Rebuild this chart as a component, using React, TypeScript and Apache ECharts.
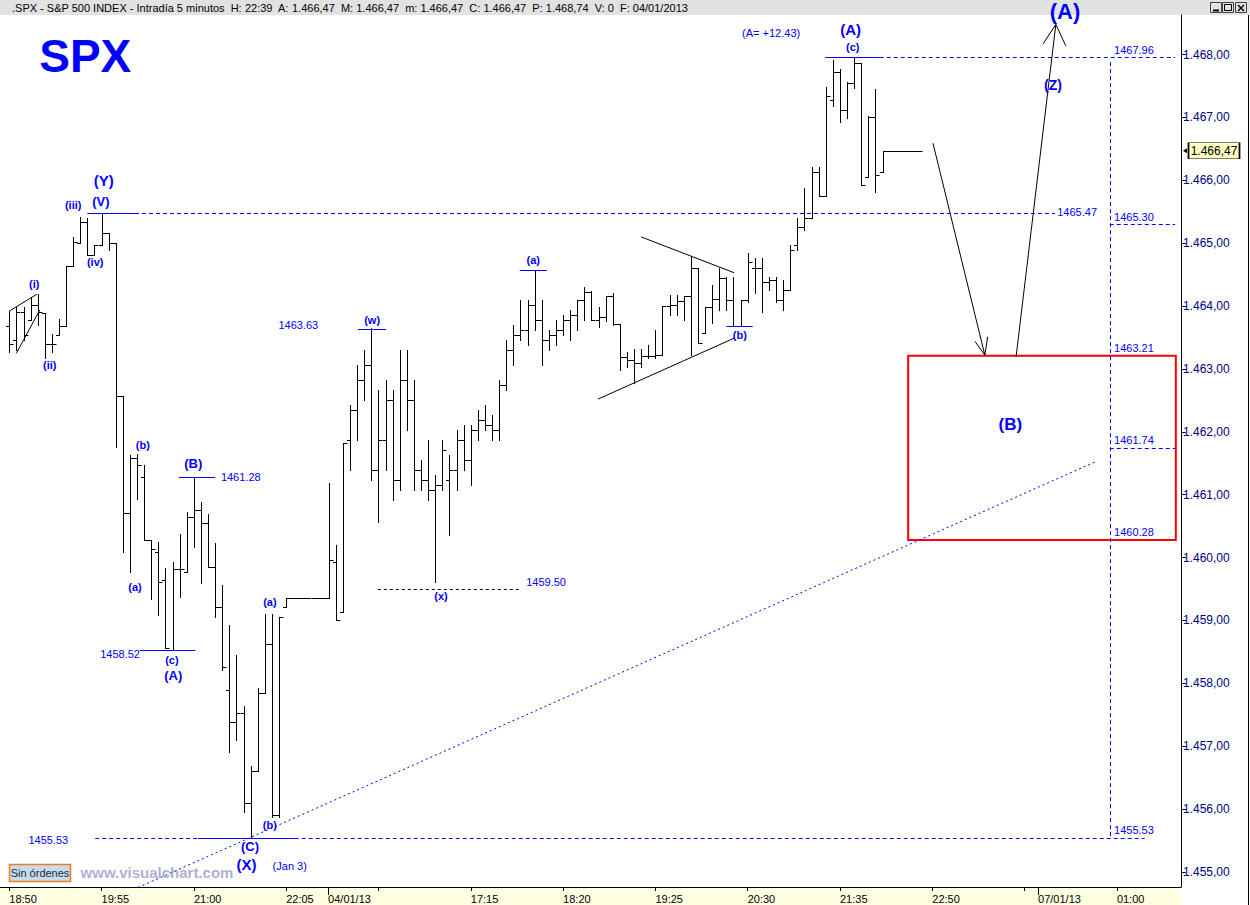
import React, { useEffect, useRef } from 'react';
import * as echarts from 'echarts';

// ---------- DATA (5-minute OHLC bars, S&P 500) ----------
const opens = [
  1463.68, 1463.46, 1463.91, 1463.78, 1464.02, 1463.89, 1463.40, 1463.54, 1463.68, 1464.64,
  1465.00, 1465.34, 1464.81, 1464.97, 1465.16, 1465.00, 1462.57, 1460.71, 1461.58, 1461.28,
  1460.28, 1460.09, 1459.65, 1458.53, 1459.82, 1459.77, 1460.65, 1460.76, 1460.55, 1459.85,
  1459.22, 1457.90, 1457.39, 1457.53, 1456.10, 1456.61, 1457.85, 1458.63, 1455.91, 1459.22,
  1459.36, 1459.36, 1459.36, 1459.36, 1459.36, 1459.36, 1459.93, 1459.14, 1461.87, 1462.35,
  1462.82, 1463.06, 1461.39, 1461.87, 1462.51, 1461.24, 1462.82, 1462.51, 1461.39, 1461.24,
  1461.08, 1461.15, 1461.24, 1461.39, 1461.87, 1461.55, 1462.03, 1462.19, 1462.11, 1462.03,
  1462.75, 1463.30, 1463.54, 1463.62, 1464.02, 1463.78, 1463.46, 1463.54, 1463.62, 1463.78,
  1463.86, 1464.10, 1464.22, 1463.78, 1463.83, 1464.16, 1463.72, 1463.19, 1463.14, 1463.10,
  1463.21, 1463.21, 1463.22, 1464.00, 1464.02, 1464.08, 1464.16, 1464.61, 1463.57, 1463.99,
  1464.11, 1464.45, 1464.10, 1463.68, 1464.10, 1464.61, 1464.61, 1464.38, 1464.41, 1464.10,
  1464.26, 1464.97, 1465.26, 1465.40, 1466.13, 1465.75, 1467.28, 1467.72, 1467.12, 1467.55,
  1467.86, 1466.05, 1467.01, 1466.13, 1466.47, 1466.47, 1466.47, 1466.47, 1466.47,
];
const highs = [
  1463.92, 1463.99, 1463.99, 1464.13, 1464.19, 1463.89, 1463.56, 1463.79, 1464.64, 1465.10,
  1465.42, 1465.40, 1464.97, 1465.48, 1465.16, 1465.00, 1462.57, 1461.63, 1461.65, 1461.47,
  1460.28, 1460.25, 1459.84, 1459.93, 1460.38, 1460.73, 1461.28, 1460.88, 1460.69, 1460.23,
  1459.57, 1458.93, 1458.45, 1457.64, 1456.69, 1457.93, 1459.10, 1459.10, 1459.06, 1459.36,
  1459.36, 1459.36, 1459.36, 1459.36, 1459.36, 1461.19, 1460.20, 1461.82, 1462.43, 1463.06,
  1463.30, 1463.65, 1462.67, 1462.82, 1462.67, 1463.30, 1463.30, 1462.82, 1461.55, 1461.87,
  1461.31, 1461.87, 1461.63, 1462.03, 1462.11, 1462.11, 1462.35, 1462.43, 1462.27, 1462.82,
  1463.46, 1463.70, 1464.10, 1464.10, 1464.57, 1464.10, 1463.62, 1463.78, 1463.86, 1463.94,
  1464.10, 1464.30, 1464.24, 1463.99, 1464.16, 1464.21, 1463.72, 1463.27, 1463.32, 1463.32,
  1463.38, 1463.62, 1464.00, 1464.18, 1464.18, 1464.16, 1464.80, 1464.61, 1463.99, 1464.34,
  1464.61, 1464.46, 1464.46, 1464.10, 1464.84, 1464.77, 1464.77, 1464.46, 1464.46, 1464.41,
  1464.97, 1465.40, 1465.88, 1466.21, 1466.21, 1467.48, 1467.91, 1467.77, 1467.56, 1467.96,
  1467.86, 1467.02, 1467.45, 1466.47, 1466.47, 1466.47, 1466.47, 1466.47, 1466.47,
];
const lows = [
  1463.27, 1463.30, 1463.46, 1463.78, 1463.70, 1463.18, 1463.27, 1463.54, 1463.68, 1464.64,
  1465.00, 1464.81, 1464.81, 1464.97, 1464.89, 1461.76, 1460.09, 1459.77, 1460.93, 1460.28,
  1459.34, 1459.09, 1458.56, 1458.53, 1459.37, 1459.77, 1460.17, 1459.60, 1459.85, 1459.06,
  1458.21, 1456.91, 1457.10, 1455.96, 1455.54, 1456.61, 1457.85, 1455.88, 1455.88, 1459.22,
  1459.36, 1459.36, 1459.36, 1459.36, 1459.36, 1459.36, 1459.00, 1459.14, 1461.39, 1461.87,
  1462.51, 1461.24, 1460.57, 1461.39, 1460.92, 1461.08, 1462.03, 1461.08, 1461.08, 1460.92,
  1459.61, 1461.08, 1460.36, 1461.08, 1461.39, 1461.15, 1461.87, 1462.03, 1461.87, 1461.87,
  1462.67, 1463.06, 1463.46, 1463.38, 1463.62, 1463.06, 1463.30, 1463.38, 1463.54, 1463.46,
  1463.62, 1463.78, 1463.78, 1463.67, 1463.76, 1463.70, 1462.98, 1463.03, 1462.78, 1463.03,
  1463.18, 1463.18, 1463.22, 1463.86, 1463.86, 1463.78, 1463.22, 1463.41, 1463.57, 1463.73,
  1463.94, 1463.94, 1463.68, 1463.68, 1464.06, 1464.21, 1463.91, 1464.26, 1464.06, 1463.94,
  1464.26, 1464.89, 1465.21, 1465.40, 1465.75, 1465.75, 1467.18, 1466.93, 1466.99, 1467.47,
  1465.92, 1466.05, 1465.81, 1466.13, 1466.47, 1466.47, 1466.47, 1466.47, 1466.47,
];
const closes = [
  1463.40, 1463.91, 1463.54, 1464.02, 1463.91, 1463.40, 1463.40, 1463.68, 1464.64, 1465.02,
  1465.34, 1464.81, 1464.97, 1465.16, 1465.00, 1462.57, 1460.71, 1461.58, 1461.47, 1460.28,
  1460.14, 1459.61, 1458.56, 1459.82, 1459.82, 1460.65, 1460.76, 1460.55, 1459.85, 1459.22,
  1458.26, 1457.39, 1457.53, 1456.10, 1456.61, 1457.85, 1458.63, 1455.91, 1459.06, 1459.36,
  1459.36, 1459.36, 1459.36, 1459.36, 1459.36, 1459.96, 1459.01, 1461.82, 1462.35, 1462.82,
  1463.06, 1461.39, 1461.87, 1462.51, 1461.24, 1462.82, 1462.51, 1461.39, 1461.24, 1461.08,
  1461.15, 1461.71, 1461.39, 1461.87, 1461.55, 1462.03, 1462.19, 1462.11, 1462.03, 1462.75,
  1463.30, 1463.54, 1463.62, 1464.02, 1463.78, 1463.46, 1463.54, 1463.62, 1463.78, 1463.86,
  1464.10, 1464.22, 1463.78, 1463.83, 1464.16, 1463.72, 1463.19, 1463.14, 1463.10, 1463.21,
  1463.21, 1463.22, 1464.00, 1464.02, 1464.08, 1464.16, 1464.61, 1463.41, 1463.99, 1464.11,
  1464.45, 1464.10, 1463.68, 1464.10, 1464.70, 1464.61, 1464.38, 1464.41, 1464.10, 1464.26,
  1464.89, 1465.26, 1465.40, 1466.13, 1465.75, 1467.34, 1467.72, 1467.12, 1467.55, 1467.86,
  1465.92, 1467.01, 1466.08, 1466.47, 1466.47, 1466.47, 1466.47, 1466.47, 1466.47,
];

// time axis (bar index) ticks
const timeTickIdx = [0, 13, 26, 39, 52, 65, 78, 91, 104, 117, 130, 143, 156];
const timeTickLabels = ['18:50', '19:55', '21:00', '22:05', '', '17:15', '18:20', '19:25', '20:30', '21:35', '22:50', '', '01:00'];
const dayTickIdx = [44.9, 144.9];
const dayTickLabels = ['04/01/13', '07/01/13'];
const priceTicks = [1455, 1456, 1457, 1458, 1459, 1460, 1461, 1462, 1463, 1464, 1465, 1466, 1467, 1468];
const lastPrice = 1466.47;

// annotations [barIndex, price, text, fontSize]
const waveLabels: [number, number, string, number][] = [
  [3.5, 1464.35, '(i)', 11], [5.7, 1463.06, '(ii)', 11], [9.0, 1465.61, '(iii)', 11],
  [12.1, 1464.70, '(iv)', 11], [12.9, 1465.67, '(V)', 13], [13.3, 1465.99, '(Y)', 15],
  [18.8, 1461.79, '(b)', 11], [17.7, 1459.53, '(a)', 11], [25.9, 1461.50, '(B)', 13],
  [22.9, 1458.37, '(c)', 11], [23.1, 1458.12, '(A)', 13], [36.7, 1459.29, '(a)', 11],
  [36.7, 1455.75, '(b)', 11], [33.9, 1455.41, '(C)', 13], [33.4, 1455.11, '(X)', 15],
  [51.1, 1463.78, '(w)', 11], [60.8, 1459.39, '(x)', 11], [73.8, 1464.73, '(a)', 11],
  [102.9, 1463.54, '(b)', 11], [118.8, 1468.12, '(c)', 11], [118.5, 1468.40, '(A)', 15],
  [147.0, 1467.51, '(Z)', 14], [148.7, 1468.68, '(A)', 22], [141.0, 1462.11, '(B)', 17],
  [10.7, 1467.98, 'SPX', 46],
];
const priceNotes: [number, number, string][] = [
  [32.6, 1461.28, '1461.28'], [15.6, 1458.47, '1458.52'], [5.5, 1455.51, '1455.53'],
  [39.5, 1455.10, '(Jan 3)'], [40.7, 1463.70, '1463.63'], [75.6, 1459.61, '1459.50'],
  [107.3, 1468.34, '(A= +12.43)'], [150.4, 1465.50, '1465.47'], [158.4, 1468.07, '1467.96'],
  [158.4, 1465.42, '1465.30'], [158.4, 1463.33, '1463.21'], [158.4, 1461.87, '1461.74'],
  [158.4, 1460.41, '1460.28'], [158.4, 1455.67, '1455.53'],
];
// segments [i1, p1, i2, p2]
const blueSolid = [
  [11.0, 1465.47, 17.7, 1465.47], [23.9, 1461.28, 29.0, 1461.28], [18.4, 1458.52, 26.2, 1458.52],
  [26.6, 1455.53, 40.2, 1455.53], [49.1, 1463.63, 53.1, 1463.63], [71.9, 1464.57, 75.7, 1464.57],
  [101.0, 1463.68, 104.7, 1463.68], [114.9, 1467.96, 122.6, 1467.96],
];
const blueDashed = [
  [17.7, 1465.47, 147.3, 1465.47], [12.1, 1455.53, 26.6, 1455.53], [40.2, 1455.53, 159.9, 1455.53],
  [122.6, 1467.96, 164.2, 1467.96], [155.0, 1465.30, 164.2, 1465.30], [155.0, 1461.74, 164.2, 1461.74],
  [155.0, 1467.88, 155.0, 1455.53],
];
const blueDotted = [[14.9, 1454.59, 152.9, 1461.52]];
const blackSolid = [
  [89.0, 1465.10, 102.1, 1464.53], [82.9, 1462.52, 102.1, 1463.49],
  [0.0, 1463.92, 3.9, 1464.19], [1.0, 1463.25, 4.3, 1463.94],
  [130.1, 1466.59, 137.4, 1463.22], [136.0, 1463.44, 137.4, 1463.22], [137.8, 1463.51, 137.4, 1463.22],
  [141.8, 1463.19, 147.4, 1468.48], [145.6, 1468.17, 147.4, 1468.48], [148.8, 1468.14, 147.4, 1468.48],
];
const blackDashed = [[51.9, 1459.50, 71.9, 1459.50]];
const targetBox = [126.6, 1463.21, 164.3, 1460.28];

const X_MIN = -1.31;
const X_MAX = 165.03;
const Y_MIN = 1454.76;
const Y_MAX = 1468.63;
const FONT = '"Liberation Sans", Arial, sans-serif';
const BLUE = '#0000FF';

function fmtPrice(v: number) {
  const r = Math.round(v);
  const th = Math.floor(r / 1000);
  const rest = String(r % 1000).padStart(3, '0');
  return th + '.' + rest + ',00';
}
function nearestLabel(v: number, idx: number[], labels: string[]) {
  let best = 0;
  for (let k = 0; k < idx.length; k++) if (Math.abs(idx[k] - v) < Math.abs(idx[best] - v)) best = k;
  return labels[best];
}

export default function App() {
  const ref = useRef<HTMLDivElement>(null);
  useEffect(() => {
    const chart = echarts.init(ref.current!, null, { renderer: 'svg' });
    const ohlc = opens.map((o, i) => [i, o, highs[i], lows[i], closes[i]]);
    const seg = (arr: number[][]) => arr.map(([a, b, c, d]) => ({ coords: [[a, b], [c, d]] }));
    const linesSeries = (data: number[][], color: string, type: any, width = 1) => ({
      type: 'lines', coordinateSystem: 'cartesian2d', xAxisIndex: 0, yAxisIndex: 0,
      data: seg(data), silent: true, z: 4,
      lineStyle: { color, width, type, opacity: 1 },
    });
    const labelData = [
      ...waveLabels.map(([i, p, t, fs]) => ({
        value: [i, p], name: t,
        label: { fontSize: fs, fontWeight: 'bold', color: BLUE },
      })),
      ...priceNotes.map(([i, p, t]) => ({
        value: [i, p], name: t,
        label: { fontSize: 11, fontWeight: 'normal', color: BLUE },
      })),
    ];
    const titleRich = {
      k: { color: '#000', fontSize: 11, fontFamily: FONT },
      v: { color: '#0000C0', fontSize: 11, fontFamily: FONT },
      r: { color: '#FF0000', fontSize: 11, fontFamily: FONT },
    };
    const option: any = {
      animation: false,
      backgroundColor: '#FFFFFF',
      grid: { left: 0, right: 69, top: 15, bottom: 18 },
      xAxis: [
        {
          type: 'value', min: X_MIN, max: X_MAX, position: 'bottom',
          axisLine: { show: true, onZero: false, lineStyle: { color: '#000', width: 1 } },
          axisTick: { show: true, length: 4, customValues: timeTickIdx, lineStyle: { color: '#000' } },
          axisLabel: {
            show: true, customValues: timeTickIdx, align: 'left', margin: 6,
            fontSize: 11, color: '#000', fontFamily: FONT,
            formatter: (v: number) => nearestLabel(v, timeTickIdx, timeTickLabels),
          },
          splitLine: { show: false },
        },
        {
          type: 'value', min: X_MIN, max: X_MAX, position: 'bottom',
          axisLine: { show: false, onZero: false },
          axisTick: { show: true, length: 8, customValues: dayTickIdx, lineStyle: { color: '#000' } },
          axisLabel: {
            show: true, customValues: dayTickIdx, align: 'left', margin: 6,
            fontSize: 11, color: '#000', fontFamily: FONT,
            formatter: (v: number) => nearestLabel(v, dayTickIdx, dayTickLabels),
          },
          splitLine: { show: false },
        },
      ],
      yAxis: {
        type: 'value', position: 'right', min: Y_MIN, max: Y_MAX,
        axisLine: { show: true, onZero: false, lineStyle: { color: '#000', width: 1 } },
        axisTick: { show: true, length: 5, customValues: priceTicks, lineStyle: { color: '#000080' } },
        axisLabel: {
          show: true, customValues: priceTicks, margin: 2, fontSize: 12,
          color: '#000080', fontFamily: FONT, formatter: (v: number) => fmtPrice(v),
        },
        splitLine: { show: false },
      },
      graphic: [
        { type: 'rect', id: 'titlebar', z: -10, shape: { x: 0, y: 0, width: 1250, height: 15 }, style: { fill: '#E2E2E2' } },
        { type: 'rect', id: 'bottomstrip', z: -10, shape: { x: 0, y: 887, width: 1181, height: 18 }, style: { fill: '#FFFFE1' } },
        { type: 'line', id: 'rightborder', z: 1, shape: { x1: 1248.5, y1: 15, x2: 1248.5, y2: 905 }, style: { stroke: '#000', lineWidth: 1 } },
        {
          type: 'text', id: 'titletext', z: 100, x: 12, y: 2,
          style: {
            text: '{k|.SPX - S&P 500 INDEX - Intradía 5 minutos  H: }{v|22:39}{k|  A: }{v|1.466,47}{k|  M: }{v|1.466,47}{k|  m: }{v|1.466,47}{k|  C: }{v|1.466,47}{k|  P: }{r|1.468,74}{k|  V: }{v|0}{k|  F: }{v|04/01/2013}',
            rich: titleRich, font: '11px ' + FONT,
          },
        },
        { type: 'rect', id: 'b1', z: 100, shape: { x: 1210.5, y: 2.5, width: 11, height: 10 }, style: { fill: '#E2E2E2', stroke: '#404040', lineWidth: 1 } },
        { type: 'line', id: 'b1g', z: 101, shape: { x1: 1213, y1: 10.5, x2: 1219, y2: 10.5 }, style: { stroke: '#000', lineWidth: 2 } },
        { type: 'rect', id: 'b2', z: 100, shape: { x: 1222.5, y: 2.5, width: 11, height: 10 }, style: { fill: '#E2E2E2', stroke: '#404040', lineWidth: 1 } },
        { type: 'rect', id: 'b2g', z: 101, shape: { x: 1224.5, y: 4.5, width: 7, height: 6 }, style: { fill: 'none', stroke: '#000', lineWidth: 1 } },
        { type: 'rect', id: 'b3', z: 100, shape: { x: 1235.5, y: 2.5, width: 11, height: 10 }, style: { fill: '#E2E2E2', stroke: '#404040', lineWidth: 1 } },
        { type: 'line', id: 'b3a', z: 101, shape: { x1: 1238, y1: 5, x2: 1244, y2: 11 }, style: { stroke: '#000', lineWidth: 1.5 } },
        { type: 'line', id: 'b3b', z: 101, shape: { x1: 1244, y1: 5, x2: 1238, y2: 11 }, style: { stroke: '#000', lineWidth: 1.5 } },
        { type: 'rect', id: 'sinbox', z: 50, shape: { x: 9.5, y: 864.5, width: 61, height: 17 }, style: { fill: '#C9D9EE', stroke: '#E8801E', lineWidth: 1.5 } },
        { type: 'text', id: 'sintext', z: 51, x: 40, y: 873, style: { text: 'Sin órdenes', font: '11px ' + FONT, fill: '#1A2A3A', align: 'center', verticalAlign: 'middle' } },
        { type: 'text', id: 'wm', z: 49, x: 157, y: 872, style: { text: 'www.visualchart.com', font: 'bold 15px ' + FONT, fill: 'rgba(120,120,180,0.6)', align: 'center', verticalAlign: 'middle' } },
      ],
      series: [
        {
          type: 'custom', name: 'bars', xAxisIndex: 0, yAxisIndex: 0, z: 3, silent: true,
          data: ohlc,
          encode: { x: 0, y: [1, 2, 3, 4] },
          renderItem: (params: any, api: any) => {
            const i = api.value(0);
            const o = api.coord([i, api.value(1)]);
            const h = api.coord([i, api.value(2)]);
            const l = api.coord([i, api.value(3)]);
            const c = api.coord([i, api.value(4)]);
            const x = Math.round(o[0]) + 0.5;
            const st = { stroke: '#000', lineWidth: 1 };
            const oy = Math.round(o[1]) + 0.5;
            const cy = Math.round(c[1]) + 0.5;
            return {
              type: 'group',
              children: [
                { type: 'line', shape: { x1: x, y1: Math.round(h[1]), x2: x, y2: Math.round(l[1]) + 1 }, style: st },
                { type: 'line', shape: { x1: x - 3.5, y1: oy, x2: x, y2: oy }, style: st },
                { type: 'line', shape: { x1: x, y1: cy, x2: x + 4, y2: cy }, style: st },
              ],
            };
          },
          markPoint: {
            silent: true,
            data: [
              {
                coord: [X_MAX, lastPrice], symbol: 'rect', symbolSize: [51, 16], symbolOffset: [33, 0],
                itemStyle: { color: '#FFFFC0', borderColor: '#000', borderWidth: 1 },
                label: { show: true, position: 'inside', formatter: '1.466,47', color: '#000', fontSize: 12, fontFamily: FONT },
              },
              {
                coord: [X_MAX, lastPrice], symbol: 'triangle', symbolSize: [5, 4], symbolRotate: 90, symbolOffset: [4, 0],
                itemStyle: { color: '#000' }, label: { show: false },
              },
            ],
          },
        },
        linesSeries(blueSolid, BLUE, 'solid'),
        linesSeries(blueDashed, BLUE, [4, 3]),
        linesSeries(blueDotted, BLUE, [2, 3]),
        linesSeries(blackSolid, '#000', 'solid'),
        linesSeries(blackDashed, '#000', [3, 3]),
        {
          type: 'scatter', name: 'labels', xAxisIndex: 0, yAxisIndex: 0, z: 6, silent: true, clip: false,
          symbolSize: 0, itemStyle: { color: 'rgba(0,0,0,0)', opacity: 1 },
          label: { show: true, position: 'inside', formatter: '{b}', fontFamily: FONT, opacity: 1, textBorderWidth: 0 },
          data: labelData,
          markArea: {
            silent: true,
            itemStyle: { color: 'rgba(0,0,0,0)', borderColor: '#FF0000', borderWidth: 2, opacity: 1 },
            data: [[{ coord: [targetBox[0], targetBox[1]] }, { coord: [targetBox[2], targetBox[3]] }]],
          },
        },
      ],
    };
    chart.setOption(option);
    return () => chart.dispose();
  }, []);
  return (
    <div
      ref={ref}
      style={{ position: 'fixed', left: 0, top: 0, width: 1250, height: 905, background: '#fff' }}
    />
  );
}
